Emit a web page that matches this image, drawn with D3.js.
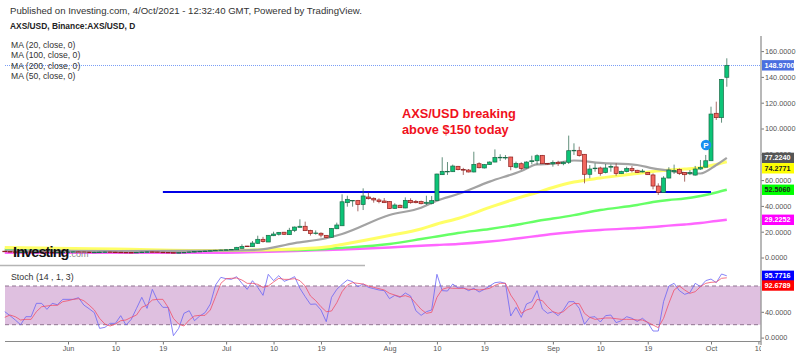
<!DOCTYPE html>
<html>
<head>
<meta charset="utf-8">
<script src="https://cdn.jsdelivr.net/npm/d3@7"></script>
<style>
  html, body { margin: 0; padding: 0; background: #fff; }
  svg { display: block; }
  text { font-family: "Liberation Sans", Arial, sans-serif; }
</style>
</head>
<body>
<div id="chart"></div>
<script>
// daily candles, first one is May 20 2021
var firstDay = "2021-05-20";

var opens = [4.9,4.6,4.4,4.1,4.2,4.3,4.2,4.3,4.2,4.0,3.9,4.0,
  4.1,4.3,4.4,4.3,4.2,4.0,4.1,4.2,4.3,4.2,4.1,4.0,3.9,3.8,4.0,4.2,4.4,4.3,4.1,4.0,3.8,3.6,3.8,4.0,4.3,4.6,4.8,5.0,5.3,5.6,
  5.8,6.0,
  6.0,7.1,8.9,8.4,11,14.1,12,16.9,18,19.6,17.7,21,23.4,24.2,21,18.7,18.8,17.2,15.7,22.3,24.6,42.5,44,44.1,41,46.9,45.9,44.6,43.8,
  43.3,38.1,40.5,38.4,44.3,43.5,43.3,42,42,44.1,64.2,66.5,66.5,70.7,68.2,67.8,66.3,72.7,69.4,72,74,77.4,77.3,77.9,70,72.7,69.4,74.3,75,79.2,72.9,
  72.6,73.8,72.7,73.8,82.8,82.8,80,64.5,68.9,69.4,65.8,70,70.2,65,66.6,68.9,67.6,66.3,66,64,55.4,50.5,61.6,66.5,68.3,65.8,65.2,63.9,68.6,70,
  75,111.8,108.4,139.7];
var closes = [4.6,4.4,4.1,4.2,4.3,4.2,4.3,4.2,4.0,3.9,4.0,4.1,
  4.3,4.4,4.3,4.2,4.0,4.1,4.2,4.3,4.2,4.1,4.0,3.9,3.8,4.0,4.2,4.4,4.3,4.1,4.0,3.8,3.6,3.8,4.0,4.3,4.6,4.8,5.0,5.3,5.6,5.8,
  6.0,6.3,
  7.9,8.6,8.4,11.2,14.1,12.3,17.2,18.2,19.5,18,21.1,23.6,24.2,20.8,18.5,19,17.4,15.4,22.6,25.2,43.2,45.1,44.3,41.2,47.7,45.6,44.6,43.3,42.5,
  37.9,40.7,38.6,44.3,42.5,42.5,41.7,42.8,44.1,64.7,66.8,66.8,70.9,68.1,67.7,66.3,72.2,69.6,72,74,77.6,77.7,77.6,70.4,73,69.1,74,75,78.9,72.7,72.5,
  73.6,72.7,73.8,82.8,83.1,79,64.5,68.6,69.3,65.2,69.4,70.6,65.2,66.8,68.9,67.3,65.8,67,64.2,55.4,50.5,61.6,67.8,67.5,65.2,64.2,65.8,68.6,69.8,75,
  111.2,108.4,138.1,148.97];
var highs = [5.1,4.8,4.6,4.5,4.6,4.5,4.6,4.5,4.4,4.2,4.3,4.4,
  4.6,4.7,4.6,4.5,4.4,4.4,4.5,4.6,4.5,4.4,4.3,4.2,4.1,4.3,4.5,4.7,4.6,4.4,4.3,4.1,3.9,4.1,4.3,4.6,4.9,5.1,5.3,5.6,5.9,6.1,
  6.3,6.6,
  8.2,10.2,9,12.8,16.9,16,17.3,20,19.8,19.8,23,24,29.6,27.8,21.5,21,19.5,17.4,22.8,27,49,47.9,44.5,44.6,53.6,50.3,46.6,45.9,46.1,
  43.5,42,41,46.6,45.9,44.6,44.1,47.9,47.7,65,77.7,74,72,71,69.5,68.6,82,73.8,72.5,74.5,83.8,80,79.4,78,74.3,73.8,74.5,78.9,80,79.5,73,
  75.3,75,74.5,94.5,88.5,85.9,80.2,71.7,73,70.4,72.5,72.2,73,67.3,70.4,70.9,68,68.5,66.3,65.2,57.5,63,70,72,69,66,67.8,71,75.6,79.5,
  116.9,120.8,138.4,154.4];
var lows = [4.4,4.2,3.9,3.9,4.0,4.0,4.0,4.0,3.8,3.7,3.7,3.8,
  3.9,4.1,4.1,4.0,3.8,3.8,3.9,4.0,4.0,3.9,3.8,3.7,3.6,3.6,3.8,4.0,4.1,3.9,3.8,3.6,3.4,3.4,3.6,3.8,4.1,4.4,4.6,4.8,5.1,5.4,
  5.6,5.8,
  5.9,7.1,8.2,8.3,10.5,11.6,12,16.6,17,17.5,17.5,19.7,23.4,20.6,17,17.7,15.6,15,15.5,22,24.5,39.4,39.4,35.8,36.8,45,42.5,42,42.5,
  37.7,37.9,38.4,38.2,41.7,42,41.2,40.7,41.2,44,64,64,66.3,67.6,64,66,66,69.1,69,71.7,73.8,74.8,75.8,67.6,69.1,67.8,69,72.2,72,72.5,72,
  70.4,71,71.5,72.5,79.5,78.2,57.5,61.4,66.5,63.4,65.2,66.5,63.4,64.8,66,66,65.5,66,64,52.8,48.5,50.4,61.4,64.8,64,58.8,63.9,63.5,68,70,
  75,106.6,104.5,132.4];

// moving averages, all read at the same dates
var maDates = ["2021-05-20","2021-06-10","2021-06-30","2021-07-07","2021-07-14","2021-07-20","2021-07-23","2021-08-01",
  "2021-08-07","2021-08-10","2021-08-14","2021-08-20","2021-08-26","2021-08-29","2021-09-01","2021-09-05",
  "2021-09-10","2021-09-17","2021-09-20","2021-09-23","2021-09-26","2021-09-29","2021-10-02","2021-10-04"];
var ma20 = [5.4,5,5.4,6,11.2,14.9,18.2,32.9,38.6,44,49.2,58.8,67,72.2,72.7,75.2,73.3,71.7,69.1,67.3,65.5,65.1,71.7,77.224];
var ma50 = [7.8,6.6,5.4,5.8,6.6,8.1,10.1,17,22.1,26,30.2,38.8,46.9,50.4,54.3,58.5,61.6,65.1,66.7,67.8,68.6,69.6,72.2,74.2771];
var ma100 = [6.2,5.4,5.4,5.8,5.8,6.6,7.4,10.5,14.3,16.3,19,22.1,26,28.3,30.2,32.9,36.8,40.7,43,44.6,45.7,47.7,50.4,52.506];
var ma200 = [3.7,3.7,3.7,4.3,5,5.8,6.2,7.8,9.1,9.7,10.5,12.4,15.1,16.7,18.2,19.8,21.3,22.9,23.6,24.7,25.6,26.7,28.3,29.2252];

// stochastic, one value per candle
var stochK = [40.2,34,27.3,20,32.4,32.4,53.1,53.1,43.8,53.1,51,59.3,59.3,59.3,61.9,50.5,44.8,38.6,14.3,15.9,22.1,22.1,34,19.5,28.3,45.3,62.4,45.3,74.8,57.2,46.9,46.9,3,14.3,37.6,41.7,26.2,33.5,38.6,52,81.5,93.4,91.3,90.3,94.4,84.1,74.8,88.2,77.9,65.5,98.1,
  88.3,96,87.2,90.3,94.5,76.4,63.5,51.6,52.1,42.8,24.7,62.4,74.8,82.6,89.3,86.7,79,83.1,77.9,75.9,73.8,72.8,60.4,65.5,62.4,69.1,64.5,41.7,34.5,40.2,42.8,98.1,72.8,72.2,83.1,76.9,77.4,72.8,76.4,70.7,74.8,80,85.2,86.2,84.1,33.5,46.9,31.4,52.1,
  55.7,72.8,44.3,37.6,40.2,34,42.8,55.7,55.7,45.4,20.6,31.4,32.4,24.2,34,35,23.2,26.2,32.4,29.9,25.2,29.9,23.2,10.2,10.2,55.7,80,84.1,72.8,67.1,69.7,84.1,79,88.3,90.8,85.2,98.6,95.7716];
var stochD = [31.4,35,32.4,27.3,28.3,28.3,40.2,47.9,49,50,50,55.7,57.2,59.3,60.3,57.2,50.5,42.8,29.8,21,18,21,26.2,27.3,31.4,35,46.9,50.5,58.3,59.3,59.3,46.9,29.8,21,18,27.3,33.5,34.5,34.5,42.8,63.4,84.1,91.3,91.9,92.4,89.3,84.1,84.1,82.6,77.9,80,
  86.2,91.9,90.3,90.3,91.4,88.3,80,64.5,57.3,47.9,40.2,41.2,54.1,71.2,81.5,85.2,84.1,83.1,80,77.9,75.9,73.8,68.6,66,63.5,65,62.4,53.1,43.8,37.6,39.2,62.4,74.8,77.4,76.4,76.4,76.4,74.8,74.8,73.8,74.8,76.4,81,84.1,84.1,66,54.1,37.6,42.8,
  45.4,59.3,57.3,47.9,40.2,37.6,40.2,47.9,53.1,52.6,37.6,31.4,28.3,29.3,30.4,30.4,29.3,28.3,28.3,28.3,27.3,27.3,23.7,19.5,15.4,29.9,53.1,73.8,80,73.8,68.6,71.2,79,84.1,85.7,86.2,91.9,92.6789];

var priceTicks = [0,20,40,60,80,100,120,140,160];
var stochTicks = [0,40];
var stochBand = [20,80];
var dateTicks = ["2021-06-01","2021-06-10","2021-06-19","2021-07-01","2021-07-10","2021-07-19","2021-08-01","2021-08-10","2021-08-19","2021-09-01","2021-09-10","2021-09-19","2021-10-01","2021-10-10"];
var dateTickLabels = ["Jun","10","19","Jul","10","19","Aug","10","19","Sep","10","19","Oct","10"];
var maNames = ["MA (20, close, 0)","MA (100, close, 0)","MA (200, close, 0)","MA (50, close, 0)"];
var lastPrice = 148.97;
var supportLevel = 50.8;
var supportDates = ["2021-06-19","2021-10-01"];

var width = 800, height = 356, axisX = 761;

var parseDay = d3.utcParse("%Y-%m-%d");
var startDay = parseDay(firstDay);
var days = opens.map(function(d, i) { return d3.utcDay.offset(startDay, i); });
var maDays = maDates.map(parseDay);

var x = d3.scaleUtc()
  .domain([parseDay("2021-06-01"), parseDay("2021-10-01")])
  .range([68, 711]);
var y = d3.scaleLinear().domain([0, 160]).range([257.5, 51.1]);
var yStoch = d3.scaleLinear().domain([0, 100]).range([337.6, 273.1]);

var svg = d3.select("#chart").append("svg")
  .attr("width", width)
  .attr("height", height)
  .attr("viewBox", "0 0 800 356");

svg.append("clipPath").attr("id", "plotClip")
  .append("rect").attr("x", 0).attr("y", 0).attr("width", axisX).attr("height", height);

// header texts
svg.append("text").attr("x", 10).attr("y", 14).attr("font-size", 9.6).attr("fill", "#333")
  .text("Published on Investing.com, 4/Oct/2021 - 12:32:40 GMT, Powered by TradingView.");
svg.append("text").attr("x", 10).attr("y", 28.5).attr("font-size", 8.4).attr("font-weight", "bold").attr("fill", "#222")
  .text("AXS/USD, Binance:AXS/USD, D");

// pane separator and last price line
svg.append("line").attr("x1", 0).attr("x2", 365).attr("y1", 265.5).attr("y2", 265.5)
  .attr("stroke", "#b5b5b5").attr("stroke-width", 1.5);
svg.append("line").attr("x1", 5).attr("x2", axisX).attr("y1", y(lastPrice)).attr("y2", y(lastPrice))
  .attr("stroke", "#7a9ef5").attr("stroke-width", 1).attr("stroke-dasharray", "1,1")
  .attr("shape-rendering", "crispEdges");

svg.selectAll(".maName").data(maNames).enter().append("text")
  .attr("class", "maName")
  .attr("x", 11)
  .attr("y", function(d, i) { return 48 + i * 10.4; })
  .attr("font-size", 8.6)
  .attr("fill", "#333")
  .text(function(d) { return d; });

// moving averages
var maLine = d3.line()
  .x(function(d) { return x(d.day); })
  .y(function(d) { return y(d.value); })
  .curve(d3.curveMonotoneX);

function drawMa(values, color, w) {
  svg.append("path")
    .datum(values.map(function(v, i) { return { day: maDays[i], value: v }; }))
    .attr("fill", "none")
    .attr("stroke", color)
    .attr("stroke-width", w)
    .attr("d", maLine);
}
drawMa(ma200, "#ff66ff", 2.4);
drawMa(ma100, "#66ff66", 2.4);
drawMa(ma50, "#ffff66", 3);
drawMa(ma20, "#a3a3a3", 2.2);

// support line
svg.append("line")
  .attr("x1", x(parseDay(supportDates[0])))
  .attr("x2", x(parseDay(supportDates[1])))
  .attr("y1", y(supportLevel))
  .attr("y2", y(supportLevel))
  .attr("stroke", "#0000e6")
  .attr("stroke-width", 2);

// candles
var candles = days.map(function(d, i) {
  return { day: d, o: opens[i], c: closes[i], h: highs[i], l: lows[i] };
});
var candle = svg.selectAll(".candle").data(candles).enter().append("g").attr("class", "candle");
candle.append("line")
  .attr("x1", function(d) { return x(d.day); })
  .attr("x2", function(d) { return x(d.day); })
  .attr("y1", function(d) { return y(d.h); })
  .attr("y2", function(d) { return y(d.l); })
  .attr("stroke", function(d) { return d.c >= d.o ? "#2f6b52" : "#8c3a36"; })
  .attr("stroke-opacity", 0.75);
candle.append("rect")
  .attr("x", function(d) { return x(d.day) - 2; })
  .attr("width", 4)
  .attr("y", function(d) { return y(Math.max(d.o, d.c)); })
  .attr("height", function(d) { return Math.max(0.6, Math.abs(y(d.o) - y(d.c))); })
  .attr("fill", function(d) { return d.c >= d.o ? "#0cc477" : "#f2685f"; })
  .attr("stroke", function(d) { return d.c >= d.o ? "#1b6b48" : "#8e1f1f"; })
  .attr("stroke-width", 0.7);

// the P marker
svg.append("circle").attr("cx", 706).attr("cy", 145).attr("r", 5.2).attr("fill", "#1b8fef");
svg.append("text").attr("x", 706).attr("y", 148).attr("text-anchor", "middle")
  .attr("font-size", 8).attr("font-weight", "bold").attr("fill", "#fff").text("P");

// annotation
svg.append("text").attr("x", 402).attr("y", 118).attr("font-size", 12.8).attr("font-weight", "bold").attr("fill", "#f01020").text("AXS/USD breaking");
svg.append("text").attr("x", 402).attr("y", 133.5).attr("font-size", 12.8).attr("font-weight", "bold").attr("fill", "#f01020").text("above $150 today");

// logo
svg.append("text").attr("x", 13).attr("y", 256.5).attr("font-size", 14.5).attr("font-weight", "bold")
  .attr("letter-spacing", -0.9).attr("fill", "#111").text("Investing");
svg.append("text").attr("x", 69).attr("y", 256.5).attr("font-size", 9).attr("fill", "#888").text(".com");

// stochastic pane
svg.append("rect")
  .attr("x", 5).attr("width", axisX - 5)
  .attr("y", yStoch(stochBand[1]))
  .attr("height", yStoch(stochBand[0]) - yStoch(stochBand[1]))
  .attr("fill", "#dfc0e0");
svg.selectAll(".bandEdge").data(stochBand).enter().append("line")
  .attr("class", "bandEdge")
  .attr("x1", 5).attr("x2", axisX)
  .attr("y1", function(d) { return yStoch(d); })
  .attr("y2", function(d) { return yStoch(d); })
  .attr("stroke", "#8f7390")
  .attr("stroke-dasharray", "4,3");

var stochLine = d3.line()
  .x(function(d, i) { return x(days[i]); })
  .y(function(d) { return yStoch(d); });
svg.append("path").datum(stochK).attr("fill", "none").attr("stroke", "#6a65f5").attr("stroke-opacity", 0.8).attr("d", stochLine);
svg.append("path").datum(stochD).attr("fill", "none").attr("stroke", "#f0506a").attr("stroke-opacity", 0.8).attr("d", stochLine);

svg.append("text").attr("x", 11).attr("y", 279.5).attr("font-size", 8.8).attr("fill", "#333").text("Stoch (14 , 1, 3)");

// axes
var priceAxis = svg.append("g")
  .attr("transform", "translate(" + axisX + ",0)")
  .call(d3.axisRight(y).tickValues(priceTicks).tickFormat(d3.format(".4f")).tickSize(3).tickPadding(1));
var stochAxis = svg.append("g")
  .attr("transform", "translate(" + axisX + ",0)")
  .call(d3.axisRight(yStoch).tickValues(stochTicks).tickFormat(d3.format(".4f")).tickSize(3).tickPadding(1));
var timeAxis = svg.append("g")
  .attr("clip-path", "url(#plotClip)")
  .append("g")
  .attr("transform", "translate(0,341.5)")
  .call(d3.axisBottom(x).tickValues(dateTicks.map(parseDay))
    .tickFormat(function(d, i) { return dateTickLabels[i]; })
    .tickSize(3).tickPadding(1));

[priceAxis, stochAxis, timeAxis].forEach(function(a) {
  a.selectAll(".domain").remove();
  a.selectAll("text").attr("font-size", 7.3).attr("font-family", "Liberation Sans").attr("fill", "#555");
  a.selectAll("line").attr("stroke", "#777");
});

svg.append("line").attr("x1", 5).attr("x2", axisX).attr("y1", 341.5).attr("y2", 341.5).attr("stroke", "#8a8a8a");
svg.append("line").attr("x1", axisX).attr("x2", axisX).attr("y1", 36).attr("y2", 345).attr("stroke", "#9a9a9a").attr("stroke-width", 1.4);

// value tags on the right edge
var tagText = ["148.9700","77.2240","74.2771","52.5060","29.2252","95.7716","92.6789"];
var tagValue = [lastPrice, ma20[23], ma50[23], ma100[23], ma200[23], stochK[137], stochD[137]];
var tagScale = [y, y, y, y, y, yStoch, yStoch];
var tagShift = [0, 0, 6.6, 0, 0, 0, 7.7];
var tagFill = ["#4a6fe0","#555555","#ffff00","#00ff00","#ff00ff","#0000ff","#ff0000"];
var tagColor = ["#fff","#fff","#222","#222","#fff","#fff","#fff"];

tagText.forEach(function(t, i) {
  var cy = tagScale[i](tagValue[i]) + tagShift[i];
  svg.append("rect").attr("x", 762).attr("y", cy - 5.2).attr("width", 32).attr("height", 10.4).attr("fill", tagFill[i]);
  svg.append("text").attr("x", 764.5).attr("y", cy + 2.6).attr("font-size", 7.2).attr("font-weight", "bold")
    .attr("fill", tagColor[i]).text(t);
});
</script>
</body>
</html>
